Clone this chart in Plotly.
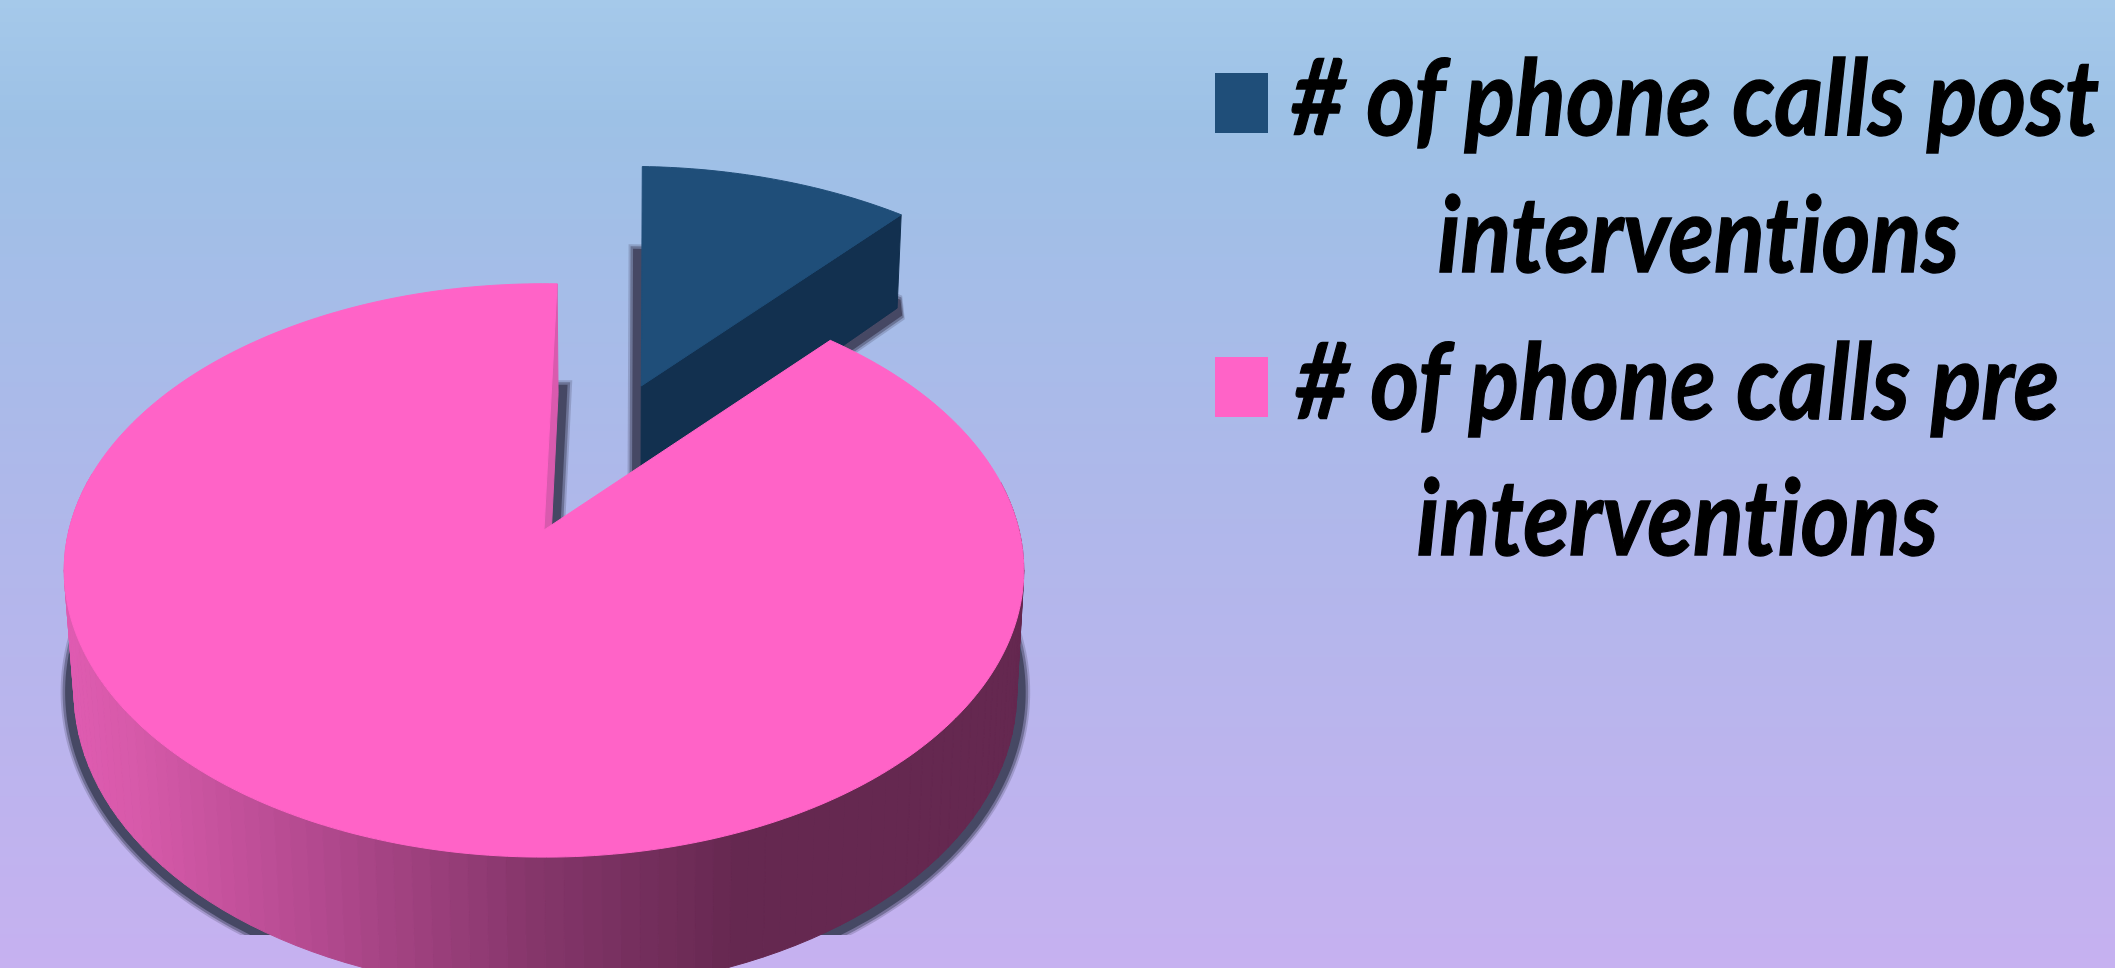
import numpy as np
import plotly.graph_objects as go

# ---- data ----
labels = ["# of phone calls post interventions", "# of phone calls pre interventions"]
values = [11.1, 88.9]
legend_lines = [["# of phone calls post", "interventions"], ["# of phone calls pre", "interventions"]]

# ---- styling ----
W, H = 2115, 968
BLUE_TOP, BLUE_WALL = "#1F4E79", "#12304F"
PINK_TOP, PINK_CUT = "#FF63C7", "#D95AAE"
SHADOW = (70, 72, 100)
FONT = "Lato, sans-serif"
bg_stops = [[0, "#A5C9EA"], [0.12, "#9DC1E6"], [0.5, "#AEB8EA"], [1, "#C6B1F0"]]
wall_x = [64, 135, 338, 527, 744, 1100]
wall_r = [224, 215, 175, 135, 101, 101]
wall_g = [92, 90, 72, 55, 40, 40]
wall_b = [178, 170, 140, 108, 80, 80]

# ---- 3D pie projection ----
cx, cy = 544, 530
R, Ry, k = 475, 281, 0.141
m, a = 0.0177, 1.4
h_pink, h_blue = 123, 107
start = 1.8
explode = 0.595
blue_radius = 1.03
blue_trim = 1.0


def proj(gx, gy, z, h):
    w = 1 + k * gy + m * z
    return cx + (R * gx + a * z) / w, cy - (Ry * gy - h * z) / w


spans = [v / sum(values) * 360 for v in values]
b0, b1 = start, start + spans[0]
p0, p1 = b1, start + 360
bis = np.radians((b0 + b1) / 2)
ox, oy = explode * np.sin(bis), explode * np.cos(bis)
b1 -= blue_trim


def sector(t0, t1, ax, ay, z, h, r=1.0, step=1.0):
    t = np.radians(np.r_[np.arange(t0, t1, step), t1])
    gx = np.r_[ax, ax + r * np.sin(t), ax]
    gy = np.r_[ay, ay + r * np.cos(t), ay]
    return proj(gx, gy, z, h)


fig = go.Figure()

# background gradient
ys = np.linspace(0, H, 97)
fig.add_trace(go.Heatmap(x=[0, W], y=ys, z=[[y, y] for y in ys], colorscale=bg_stops, showscale=False,
                         zsmooth="best", hoverinfo="skip", xaxis="x", yaxis="y"))


def poly(x, y, fill=None, line=None, width=1, name=None, axes=("x3", "y3")):
    fig.add_trace(go.Scatter(x=x, y=y, mode="lines", fill="toself" if fill else "none", fillcolor=fill,
                             line=dict(color=line or fill, width=width, simplify=False), showlegend=False,
                             hoverinfo="skip" if name is None else "text", text=name,
                             xaxis=axes[0], yaxis=axes[1]))


# shadows: the floor outline of each slice, spread outwards; clipped by their own plot area
for (t0, t1, ax, ay, hh, rr) in [(b0, b1, ox, oy, h_blue, blue_radius), (p0, p1, 0, 0, h_pink, 1.0)]:
    sx, sy = sector(t0, t1, ax, ay, 1, hh, rr)
    for wid, alpha in [(27, 0.25), (23, 0.5), (18, 1.0)]:
        col = f"rgba({SHADOW[0]},{SHADOW[1]},{SHADOW[2]},{alpha})"
        poly(sx, sy, None, col, wid, axes=("x2", "y2"))
    poly(sx, sy, f"rgb{SHADOW}", None, 1, axes=("x2", "y2"))

# blue slice
ex, ey = blue_radius * np.sin(np.radians(b1)), blue_radius * np.cos(np.radians(b1))
q = [proj(ox, oy, 0, h_blue), proj(ox + ex, oy + ey, 0, h_blue),
     proj(ox + ex, oy + ey, 1, h_blue), proj(ox, oy, 1, h_blue), proj(ox, oy, 0, h_blue)]
poly([p[0] for p in q], [p[1] for p in q], BLUE_WALL)
bx, by = sector(b0, b1, ox, oy, 0, h_blue, blue_radius)
poly(bx, by, BLUE_TOP, name=labels[0])

# pink: cut face, rim wall, top
ex0, ey0 = np.sin(np.radians(p1)), np.cos(np.radians(p1))
q = [proj(0, 0, 0, h_pink), proj(ex0, ey0, 0, h_pink), proj(ex0, ey0, 1, h_pink), proj(0, 0, 1, h_pink),
     proj(0, 0, 0, h_pink)]
poly([p[0] for p in q], [p[1] for p in q], PINK_CUT)

for d in np.arange(80, 282, 2.0):
    t = np.radians(np.array([d, d + 2.0]))
    gx, gy = np.sin(t), np.cos(t)
    x0, y0 = proj(gx, gy, 0, h_pink)
    x1, y1 = proj(gx, gy, 1, h_pink)
    xm = (x0.mean() + x1.mean()) / 2
    col = "rgb(%d,%d,%d)" % (np.interp(xm, wall_x, wall_r), np.interp(xm, wall_x, wall_g), np.interp(xm, wall_x, wall_b))
    poly(np.r_[x0, x1[::-1], x0[0]], np.r_[y0, y1[::-1], y0[0]], col)

px, py = sector(p0, p1, 0, 0, 0, h_pink)
poly(px, py, PINK_TOP, name=labels[1])

# legend keys and text
shapes = []
for y0, c in [(73, BLUE_TOP), (357, PINK_TOP)]:
    shapes.append(dict(type="rect", xref="x3", yref="y3", x0=1215, x1=1268, y0=y0, y1=y0 + 60,
                       fillcolor=c, line=dict(width=0)))
positions = [(1695, 135), (1698, 272), (1677, 419), (1677, 555)]
texts = [s for group in legend_lines for s in group]
annos = [dict(x=x, y=y + 22, xref="x3", yref="y3", text=f"<b><i>{s}</i></b>", showarrow=False,
              xanchor="center", yanchor="bottom", font=dict(family=FONT, size=94, color="black"))
         for (x, y), s in zip(positions, texts)]

noax = dict(visible=False, fixedrange=True)
fig.update_layout(
    width=W, height=H, margin=dict(l=0, r=0, t=0, b=0), autosize=False,
    paper_bgcolor="#B0B8EA", plot_bgcolor="rgba(0,0,0,0)", showlegend=False, shapes=shapes, annotations=annos,
    xaxis=dict(noax, range=[0, W], domain=[0, 1]), yaxis=dict(noax, range=[H, 0], domain=[0, 1]),
    xaxis2=dict(noax, range=[0, W], domain=[0, 1], anchor="y2"),
    yaxis2=dict(noax, range=[935, 0], domain=[1 - 935 / H, 1], anchor="x2"),
    xaxis3=dict(noax, range=[0, W], domain=[0, 1], anchor="y3"),
    yaxis3=dict(noax, range=[H, 0], domain=[0, 1], anchor="x3"),
)

# the reference's text is stretched vertically and heavier than any installed face
post = """
document.body.style.margin='0';document.body.style.overflow='hidden';
document.querySelectorAll('text.annotation-text').forEach(function(el){
  el.style.fontVariantLigatures='none';
  el.style.stroke='black'; el.style.strokeWidth='1.2px';
  var y=parseFloat(el.getAttribute('y'));
  if(isNaN(y)){var b=el.getBBox(); y=b.y+b.height*0.8;}
  var t=el.getAttribute('transform')||'';
  el.setAttribute('transform', t+' translate(0,'+y+') scale(1,1.12) translate(0,'+(-y)+')');
});
"""
fig.write_html("out.html", config={"displayModeBar": False}, post_script=post)
